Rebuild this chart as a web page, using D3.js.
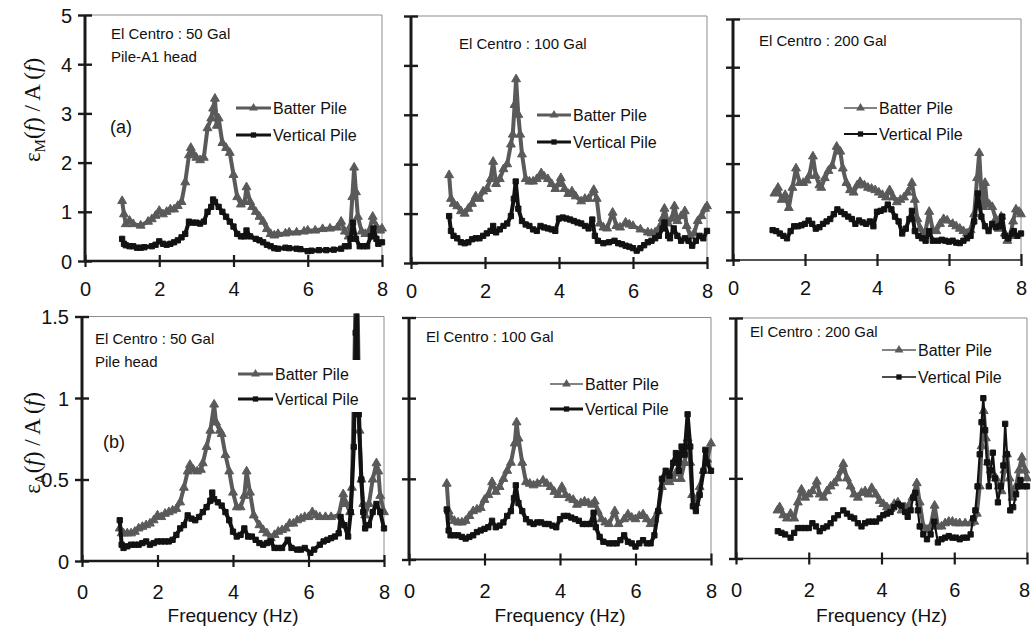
<!DOCTYPE html>
<html>
<head>
<meta charset="utf-8">
<script src="https://cdn.jsdelivr.net/npm/d3@7"></script>
<style>
  body { margin: 0; background: #fff; }
  svg { display: block; font-family: "Liberation Sans", Arial, sans-serif; }
  svg text { font-family: "Liberation Sans", Arial, sans-serif; }
  .tick text { font-size: 20px; fill: #111; }
  .note { font-size: 15px; fill: #111; }
  .legend-text { font-size: 16px; fill: #111; }
  svg text.ytitle, svg text.ytitle tspan { font-family: "Liberation Serif", "Times New Roman", serif; font-size: 23px; fill: #111; }
</style>
</head>
<body>
<div id="chart"></div>
<script>
// tick values
const freqTicks = [0, 2, 4, 6, 8];
const topTicks = [0, 1, 2, 3, 4, 5];
const bottomTicks = [0, 0.5, 1, 1.5];

// eps_M / A(f), El Centro 50 Gal
const batterM50 = [[1.0,1.22],[1.05,0.95],[1.1,0.75],[1.2,0.82],[1.3,0.75],[1.5,0.72],[1.7,0.8],[1.8,0.85],[1.9,0.92],[2.0,1.02],[2.1,0.95],[2.2,1.0],[2.3,1.05],[2.4,1.05],[2.5,1.12],[2.6,1.2],[2.7,1.6],[2.8,2.15],[2.85,2.3],[2.9,2.2],[3.0,2.1],[3.1,2.05],[3.2,2.1],[3.3,2.7],[3.4,2.9],[3.45,3.1],[3.5,3.3],[3.55,2.75],[3.6,2.9],[3.7,2.4],[3.8,2.3],[3.9,2.2],[4.0,1.75],[4.1,1.3],[4.2,1.15],[4.3,1.2],[4.35,1.5],[4.45,1.2],[4.5,1.1],[4.6,1.0],[4.7,0.9],[4.8,0.8],[4.9,0.65],[5.0,0.55],[5.1,0.52],[5.2,0.55],[5.4,0.56],[5.5,0.58],[5.7,0.58],[5.9,0.6],[6.0,0.62],[6.2,0.62],[6.4,0.65],[6.6,0.66],[6.8,0.68],[6.9,0.8],[7.0,0.6],[7.1,0.5],[7.15,0.7],[7.2,1.3],[7.25,1.9],[7.3,1.4],[7.35,0.9],[7.45,0.6],[7.55,0.55],[7.65,0.6],[7.75,0.9],[7.85,0.7],[7.95,0.62],[8.0,0.66]];
const verticalM50 = [[1.0,0.45],[1.05,0.35],[1.1,0.32],[1.2,0.3],[1.3,0.3],[1.4,0.27],[1.5,0.27],[1.6,0.28],[1.8,0.3],[1.9,0.33],[2.0,0.4],[2.1,0.35],[2.2,0.33],[2.3,0.35],[2.4,0.38],[2.5,0.42],[2.6,0.48],[2.7,0.55],[2.8,0.8],[2.9,0.78],[3.0,0.78],[3.1,0.76],[3.2,0.8],[3.3,1.0],[3.4,1.1],[3.45,1.25],[3.5,1.2],[3.6,1.1],[3.7,1.0],[3.8,0.9],[3.9,0.8],[4.0,0.7],[4.1,0.55],[4.2,0.5],[4.3,0.5],[4.35,0.62],[4.45,0.5],[4.6,0.45],[4.7,0.42],[4.8,0.38],[4.9,0.33],[5.0,0.3],[5.1,0.26],[5.2,0.25],[5.4,0.27],[5.5,0.26],[5.7,0.25],[5.8,0.24],[6.0,0.2],[6.1,0.21],[6.3,0.22],[6.5,0.22],[6.7,0.23],[6.9,0.25],[7.0,0.3],[7.1,0.3],[7.15,0.45],[7.22,0.78],[7.3,0.45],[7.4,0.3],[7.5,0.3],[7.6,0.3],[7.7,0.5],[7.77,0.66],[7.85,0.45],[7.9,0.35],[8.0,0.38]];

// eps_M / A(f), El Centro 100 Gal
const batterM100 = [[1.03,1.78],[1.08,1.3],[1.15,1.2],[1.25,1.15],[1.35,1.05],[1.45,1.0],[1.55,1.1],[1.65,1.2],[1.75,1.35],[1.85,1.3],[1.95,1.45],[2.05,1.5],[2.15,1.7],[2.22,2.05],[2.3,1.6],[2.4,1.7],[2.5,1.9],[2.6,2.0],[2.7,2.4],[2.75,2.6],[2.8,3.2],[2.84,3.72],[2.9,3.0],[2.95,2.6],[3.0,2.2],[3.1,1.7],[3.2,1.65],[3.3,1.65],[3.4,1.7],[3.52,1.82],[3.6,1.75],[3.7,1.7],[3.8,1.6],[3.9,1.5],[4.0,1.6],[4.05,1.72],[4.15,1.5],[4.25,1.4],[4.35,1.45],[4.45,1.35],[4.6,1.25],[4.7,1.3],[4.8,1.3],[4.94,1.48],[5.02,1.3],[5.1,0.8],[5.2,0.72],[5.3,0.7],[5.45,1.02],[5.55,0.75],[5.65,0.72],[5.8,0.82],[5.9,0.78],[6.0,0.75],[6.2,0.68],[6.4,0.62],[6.5,0.6],[6.6,0.62],[6.7,0.7],[6.8,0.9],[6.85,1.1],[6.95,0.8],[7.05,0.9],[7.12,1.15],[7.2,0.85],[7.3,0.95],[7.4,1.05],[7.45,0.75],[7.55,0.55],[7.65,0.6],[7.75,0.85],[7.85,0.95],[7.95,1.1],[8.0,1.15]];
const verticalM100 = [[1.03,0.95],[1.08,0.65],[1.15,0.55],[1.25,0.5],[1.35,0.42],[1.45,0.4],[1.55,0.42],[1.65,0.48],[1.75,0.5],[1.85,0.5],[1.95,0.55],[2.05,0.6],[2.15,0.65],[2.22,0.75],[2.3,0.62],[2.4,0.68],[2.5,0.75],[2.6,0.8],[2.7,0.95],[2.78,1.3],[2.83,1.65],[2.9,1.1],[3.0,0.85],[3.1,0.78],[3.2,0.75],[3.3,0.68],[3.4,0.65],[3.5,0.75],[3.6,0.72],[3.7,0.7],[3.8,0.68],[3.9,0.65],[4.0,0.9],[4.1,0.92],[4.2,0.9],[4.3,0.88],[4.4,0.85],[4.5,0.82],[4.6,0.8],[4.7,0.75],[4.8,0.7],[4.9,0.88],[4.97,0.55],[5.05,0.45],[5.2,0.4],[5.35,0.42],[5.5,0.45],[5.6,0.4],[5.7,0.38],[5.8,0.35],[5.9,0.33],[6.0,0.3],[6.1,0.25],[6.2,0.3],[6.3,0.36],[6.4,0.42],[6.5,0.45],[6.6,0.5],[6.7,0.55],[6.8,0.7],[6.85,0.82],[6.95,0.55],[7.0,0.5],[7.1,0.7],[7.2,0.55],[7.3,0.45],[7.4,0.5],[7.5,0.45],[7.6,0.35],[7.7,0.45],[7.8,0.55],[7.9,0.5],[8.0,0.65]];

// eps_M / A(f), El Centro 200 Gal
const batterM200 = [[1.15,1.38],[1.25,1.5],[1.35,1.25],[1.45,1.35],[1.55,1.08],[1.65,1.5],[1.75,1.9],[1.85,1.6],[1.95,1.6],[2.05,1.65],[2.12,1.75],[2.22,2.15],[2.3,1.75],[2.4,1.55],[2.45,1.5],[2.55,1.7],[2.65,1.85],[2.75,1.95],[2.88,2.35],[2.98,2.25],[3.05,1.9],[3.15,1.6],[3.25,1.45],[3.35,1.4],[3.45,1.55],[3.53,1.62],[3.65,1.55],[3.75,1.5],[3.85,1.48],[3.95,1.45],[4.05,1.4],[4.15,1.35],[4.25,1.3],[4.35,1.45],[4.45,1.3],[4.55,1.2],[4.65,1.25],[4.75,1.3],[4.85,1.4],[4.97,1.6],[5.05,1.25],[5.12,0.85],[5.2,0.65],[5.32,0.5],[5.45,1.0],[5.55,0.62],[5.65,0.6],[5.75,0.75],[5.85,0.85],[5.95,0.82],[6.1,0.75],[6.2,0.7],[6.3,0.65],[6.4,0.6],[6.5,0.55],[6.6,0.62],[6.7,0.95],[6.78,1.7],[6.84,2.22],[6.9,1.4],[6.95,1.1],[7.0,1.6],[7.05,1.2],[7.12,1.15],[7.2,1.1],[7.3,0.85],[7.38,0.65],[7.45,0.9],[7.55,0.55],[7.62,0.4],[7.7,0.5],[7.78,0.8],[7.86,1.05],[7.95,1.0],[8.0,0.95]];
const verticalM200 = [[1.1,0.62],[1.2,0.6],[1.3,0.55],[1.4,0.5],[1.5,0.45],[1.6,0.6],[1.7,0.7],[1.8,0.7],[1.9,0.72],[2.0,0.75],[2.1,0.82],[2.2,0.75],[2.3,0.65],[2.4,0.68],[2.5,0.75],[2.6,0.8],[2.7,0.85],[2.8,0.95],[2.9,1.05],[3.0,1.0],[3.1,0.95],[3.2,0.9],[3.3,0.85],[3.4,0.75],[3.5,0.82],[3.6,0.78],[3.7,0.75],[3.8,0.8],[3.9,0.7],[4.0,1.0],[4.1,1.02],[4.2,1.05],[4.3,1.15],[4.4,1.05],[4.5,0.9],[4.6,0.8],[4.7,0.55],[4.8,0.65],[4.9,0.85],[4.97,1.02],[5.05,0.6],[5.15,0.5],[5.25,0.45],[5.35,0.4],[5.45,0.6],[5.55,0.4],[5.7,0.4],[5.8,0.42],[5.9,0.4],[6.0,0.38],[6.1,0.4],[6.2,0.36],[6.3,0.35],[6.4,0.4],[6.5,0.45],[6.6,0.5],[6.7,0.8],[6.8,1.38],[6.9,0.9],[7.0,0.7],[7.1,0.6],[7.2,0.75],[7.3,0.68],[7.4,0.7],[7.48,0.9],[7.55,0.5],[7.65,0.45],[7.75,0.55],[7.8,0.6],[7.9,0.5],[8.0,0.55]];

// eps_A / A(f), El Centro 50 Gal
const batterA50 = [[1.0,0.2],[1.05,0.17],[1.1,0.17],[1.2,0.17],[1.3,0.17],[1.4,0.18],[1.5,0.2],[1.6,0.21],[1.7,0.22],[1.8,0.23],[1.9,0.25],[2.0,0.28],[2.1,0.27],[2.2,0.29],[2.3,0.3],[2.4,0.31],[2.5,0.32],[2.6,0.36],[2.7,0.45],[2.8,0.55],[2.86,0.59],[2.95,0.56],[3.05,0.55],[3.15,0.56],[3.2,0.6],[3.3,0.7],[3.4,0.8],[3.5,0.96],[3.55,0.85],[3.65,0.8],[3.7,0.78],[3.8,0.65],[3.9,0.55],[4.0,0.42],[4.1,0.33],[4.2,0.33],[4.3,0.4],[4.36,0.55],[4.45,0.42],[4.55,0.28],[4.7,0.22],[4.8,0.19],[4.9,0.17],[5.0,0.14],[5.1,0.16],[5.2,0.18],[5.3,0.19],[5.4,0.2],[5.5,0.23],[5.6,0.23],[5.7,0.25],[5.8,0.26],[5.9,0.27],[6.0,0.27],[6.1,0.3],[6.2,0.28],[6.3,0.27],[6.45,0.27],[6.6,0.27],[6.8,0.28],[6.92,0.41],[7.0,0.35],[7.1,0.3],[7.15,0.45],[7.2,1.0],[7.25,1.7],[7.3,1.6],[7.35,0.8],[7.4,0.5],[7.45,0.35],[7.5,0.28],[7.6,0.35],[7.7,0.5],[7.8,0.6],[7.85,0.55],[7.9,0.4],[8.0,0.3]];
const verticalA50 = [[1.0,0.25],[1.05,0.1],[1.1,0.08],[1.2,0.09],[1.3,0.1],[1.4,0.1],[1.5,0.1],[1.6,0.11],[1.7,0.12],[1.8,0.1],[1.9,0.11],[2.0,0.12],[2.1,0.12],[2.2,0.12],[2.3,0.12],[2.4,0.13],[2.5,0.16],[2.6,0.2],[2.7,0.22],[2.8,0.28],[2.9,0.26],[3.0,0.25],[3.1,0.27],[3.2,0.3],[3.3,0.33],[3.4,0.37],[3.45,0.42],[3.5,0.38],[3.6,0.36],[3.7,0.34],[3.8,0.3],[3.9,0.25],[4.0,0.18],[4.1,0.15],[4.2,0.16],[4.3,0.2],[4.4,0.15],[4.5,0.15],[4.6,0.13],[4.7,0.11],[4.8,0.1],[4.9,0.11],[5.0,0.12],[5.1,0.08],[5.2,0.08],[5.3,0.08],[5.45,0.13],[5.55,0.08],[5.7,0.07],[5.8,0.07],[5.9,0.08],[6.05,0.05],[6.15,0.07],[6.3,0.1],[6.4,0.12],[6.5,0.13],[6.6,0.14],[6.7,0.15],[6.8,0.17],[6.85,0.27],[6.95,0.22],[7.05,0.15],[7.12,0.3],[7.2,0.7],[7.25,1.4],[7.28,1.6],[7.33,0.9],[7.4,0.5],[7.45,0.3],[7.5,0.2],[7.6,0.22],[7.7,0.3],[7.8,0.35],[7.9,0.3],[8.0,0.2]];

// eps_A / A(f), El Centro 100 Gal
const batterA100 = [[1.0,0.47],[1.05,0.3],[1.1,0.26],[1.2,0.24],[1.3,0.23],[1.4,0.23],[1.5,0.24],[1.6,0.27],[1.7,0.3],[1.8,0.31],[1.9,0.32],[2.0,0.37],[2.1,0.4],[2.2,0.48],[2.3,0.42],[2.4,0.45],[2.5,0.5],[2.6,0.55],[2.7,0.6],[2.8,0.72],[2.85,0.85],[2.9,0.75],[3.0,0.6],[3.1,0.48],[3.2,0.47],[3.3,0.46],[3.4,0.47],[3.55,0.49],[3.65,0.47],[3.75,0.45],[3.85,0.42],[3.95,0.4],[4.05,0.45],[4.15,0.4],[4.25,0.38],[4.35,0.37],[4.45,0.34],[4.55,0.35],[4.65,0.36],[4.75,0.35],[4.85,0.34],[4.92,0.36],[5.0,0.3],[5.1,0.25],[5.2,0.23],[5.3,0.22],[5.45,0.3],[5.55,0.22],[5.7,0.25],[5.8,0.28],[5.9,0.26],[6.0,0.25],[6.1,0.27],[6.2,0.28],[6.3,0.25],[6.4,0.22],[6.5,0.25],[6.6,0.3],[6.7,0.45],[6.8,0.5],[6.9,0.48],[7.0,0.5],[7.1,0.55],[7.2,0.5],[7.3,0.6],[7.38,0.75],[7.45,0.6],[7.5,0.4],[7.6,0.35],[7.7,0.45],[7.8,0.55],[7.9,0.62],[8.0,0.72]];
const verticalA100 = [[1.0,0.31],[1.05,0.18],[1.1,0.15],[1.2,0.15],[1.3,0.15],[1.4,0.14],[1.5,0.13],[1.6,0.14],[1.7,0.15],[1.8,0.17],[1.9,0.18],[2.0,0.19],[2.1,0.2],[2.2,0.24],[2.3,0.2],[2.4,0.21],[2.5,0.23],[2.6,0.27],[2.7,0.3],[2.78,0.38],[2.83,0.46],[2.9,0.35],[3.0,0.3],[3.1,0.25],[3.2,0.23],[3.3,0.22],[3.4,0.23],[3.5,0.23],[3.6,0.22],[3.7,0.22],[3.8,0.21],[3.9,0.2],[4.0,0.25],[4.1,0.27],[4.2,0.27],[4.3,0.26],[4.4,0.25],[4.5,0.24],[4.6,0.22],[4.7,0.22],[4.8,0.22],[4.89,0.29],[4.95,0.2],[5.05,0.14],[5.15,0.11],[5.3,0.1],[5.4,0.1],[5.5,0.1],[5.6,0.12],[5.7,0.15],[5.8,0.11],[5.9,0.1],[6.0,0.08],[6.1,0.1],[6.2,0.12],[6.3,0.1],[6.4,0.1],[6.5,0.15],[6.6,0.3],[6.7,0.5],[6.8,0.55],[6.9,0.52],[7.0,0.6],[7.07,0.66],[7.15,0.55],[7.22,0.7],[7.3,0.65],[7.38,0.9],[7.45,0.7],[7.52,0.33],[7.6,0.3],[7.7,0.4],[7.8,0.55],[7.85,0.68],[7.9,0.6],[8.0,0.55]];

// eps_A / A(f), El Centro 200 Gal
const batterA200 = [[1.14,0.3],[1.2,0.32],[1.3,0.27],[1.4,0.25],[1.5,0.28],[1.6,0.25],[1.7,0.35],[1.8,0.43],[1.9,0.38],[2.0,0.4],[2.1,0.42],[2.22,0.48],[2.3,0.4],[2.4,0.38],[2.5,0.42],[2.6,0.45],[2.7,0.47],[2.8,0.5],[2.9,0.55],[2.95,0.59],[3.05,0.5],[3.15,0.45],[3.25,0.4],[3.35,0.38],[3.45,0.41],[3.55,0.42],[3.65,0.4],[3.73,0.44],[3.85,0.4],[3.95,0.36],[4.05,0.34],[4.15,0.32],[4.25,0.31],[4.35,0.34],[4.45,0.35],[4.55,0.3],[4.65,0.32],[4.75,0.33],[4.85,0.38],[4.97,0.47],[5.05,0.35],[5.15,0.2],[5.25,0.18],[5.35,0.2],[5.46,0.33],[5.55,0.2],[5.65,0.2],[5.75,0.22],[5.85,0.23],[5.95,0.23],[6.05,0.22],[6.15,0.22],[6.3,0.22],[6.45,0.22],[6.55,0.23],[6.62,0.28],[6.7,0.45],[6.75,0.7],[6.81,0.92],[6.87,0.75],[6.93,0.6],[7.0,0.55],[7.08,0.52],[7.15,0.5],[7.22,0.45],[7.3,0.42],[7.38,0.55],[7.45,0.65],[7.52,0.5],[7.6,0.38],[7.7,0.45],[7.78,0.55],[7.86,0.63],[7.95,0.55],[8.0,0.5]];
const verticalA200 = [[1.15,0.17],[1.25,0.16],[1.35,0.15],[1.5,0.13],[1.6,0.16],[1.7,0.19],[1.8,0.19],[1.9,0.19],[2.0,0.19],[2.1,0.22],[2.2,0.2],[2.3,0.17],[2.4,0.19],[2.5,0.2],[2.6,0.22],[2.7,0.25],[2.8,0.27],[2.95,0.3],[3.05,0.28],[3.15,0.26],[3.25,0.25],[3.35,0.22],[3.45,0.2],[3.55,0.22],[3.65,0.23],[3.75,0.23],[3.85,0.23],[3.95,0.25],[4.05,0.27],[4.15,0.28],[4.25,0.29],[4.35,0.32],[4.45,0.34],[4.55,0.33],[4.65,0.29],[4.72,0.26],[4.8,0.3],[4.87,0.38],[4.93,0.41],[5.0,0.3],[5.05,0.2],[5.15,0.15],[5.25,0.12],[5.35,0.15],[5.45,0.23],[5.55,0.1],[5.65,0.12],[5.75,0.13],[5.85,0.14],[5.95,0.13],[6.05,0.13],[6.15,0.12],[6.25,0.13],[6.35,0.13],[6.45,0.15],[6.52,0.25],[6.58,0.3],[6.64,0.45],[6.7,0.65],[6.75,0.85],[6.8,1.0],[6.85,0.8],[6.9,0.6],[6.95,0.45],[7.0,0.55],[7.06,0.66],[7.12,0.5],[7.2,0.35],[7.28,0.45],[7.35,0.58],[7.4,0.84],[7.45,0.65],[7.54,0.3],[7.62,0.32],[7.7,0.4],[7.76,0.45],[7.82,0.49],[7.9,0.45],[8.0,0.45]];

const seriesNames = ['Batter Pile', 'Vertical Pile'];
const noteLines = [
	['El Centro : 50 Gal', 'Pile-A1 head'],
	['El Centro : 100 Gal'],
	['El Centro : 200 Gal'],
	['El Centro : 50 Gal', 'Pile head'],
	['El Centro : 100 Gal'],
	['El Centro : 200 Gal']
];

const width = 1031, height = 626;
const batterColour = '#5a5a5a';
const verticalColour = '#121212';

// panel layout (plot frames in pixels, row 0 = eps_M, row 1 = eps_A)
const panels = [
	{row: 0, x0: 85,  x1: 382,  top: 15,    bottom: 261,   batter: batterM50,  vertical: verticalM50,
	 note: [111, 38.5], legend: [236, 273, 108, 135], legendWidth: [3, 3], label: '(a)', labelPos: [110, 133], xAxisWidth: 2.6},
	{row: 0, x0: 411, x1: 707,  top: 16,    bottom: 263,   batter: batterM100, vertical: verticalM100,
	 note: [459, 48.5], legend: [537, 573, 115, 142], legendWidth: [3, 3], xAxisWidth: 2.6},
	{row: 0, x0: 733, x1: 1021, top: 19,    bottom: 260,   batter: batterM200, vertical: verticalM200,
	 note: [759, 45.5], legend: [844, 879, 108, 134], legendWidth: [1.6, 2.2], xAxisWidth: 1.6},
	{row: 1, x0: 82,  x1: 384,  top: 316.5, bottom: 561,   batter: batterA50,  vertical: verticalA50,
	 note: [95, 343.5], legend: [238, 275, 374, 399], legendWidth: [3, 3], label: '(b)', labelPos: [103, 448], xAxisWidth: 2.6},
	{row: 1, x0: 409, x1: 711,  top: 317.5, bottom: 559.5, batter: batterA100, vertical: verticalA100,
	 note: [426, 342], legend: [550, 585, 384, 409], legendWidth: [1.6, 3], xAxisWidth: 2},
	{row: 1, x0: 736, x1: 1027, top: 318,   bottom: 558.5, batter: batterA200, vertical: verticalA200,
	 note: [750, 337], legend: [882, 918, 350, 377], legendWidth: [1.6, 1.4], xAxisWidth: 1.6}
];

const svg = d3.select('#chart').append('svg')
	.attr('width', width)
	.attr('height', height);

const triangle = d3.symbol().type(d3.symbolTriangle).size(34);
const square = d3.symbol().type(d3.symbolSquare).size(28);

panels.forEach((p, i) => {
	const yMax = p.row === 0 ? 5 : 1.5;
	const yTicks = p.row === 0 ? topTicks : bottomTicks;
	const x = d3.scaleLinear().domain([0, 8]).range([p.x0, p.x1]);
	const y = d3.scaleLinear().domain([0, yMax]).range([p.bottom, p.top]);
	const g = svg.append('g').attr('class', 'panel');

	// thin frame on top and right
	g.append('path')
		.attr('d', `M${p.x0},${p.top}H${p.x1}V${p.bottom}`)
		.attr('fill', 'none')
		.attr('stroke', '#8c8c8c')
		.attr('stroke-width', 1);

	// clip so the off-scale spike stops at the frame
	g.append('clipPath').attr('id', 'clip' + i)
		.append('rect')
		.attr('x', p.x0 - 10).attr('y', p.top - 3)
		.attr('width', p.x1 - p.x0 + 20).attr('height', p.bottom - p.top + 3);

	const line = d3.line().x(d => x(d[0])).y(d => y(d[1]));
	const plot = g.append('g').attr('clip-path', `url(#clip${i})`);

	drawSeries(plot, p.batter, line, x, y, batterColour, triangle, 4);
	drawSeries(plot, p.vertical, line, x, y, verticalColour, square, i === 5 ? 2.2 : 4);

	// legend with white box
	drawLegend(g, p);

	// notes
	const note = g.append('text').attr('class', 'note')
		.attr('x', p.note[0]).attr('y', p.note[1]);
	noteLines[i].forEach((t, k) => {
		note.append('tspan').attr('x', p.note[0]).attr('dy', k === 0 ? 0 : 23).text(t);
	});
	if (p.label) {
		g.append('text').attr('x', p.labelPos[0]).attr('y', p.labelPos[1])
			.style('font-size', '18px').attr('fill', '#111').text(p.label);
	}

	// x axis, ticks crossing the line
	const xAxis = g.append('g')
		.attr('transform', `translate(0,${p.bottom})`)
		.call(d3.axisBottom(x).tickValues(freqTicks).tickSize(6).tickFormat(d3.format('d')));
	xAxis.select('.domain').attr('stroke', '#1a1a1a').attr('stroke-width', p.xAxisWidth)
		.attr('d', `M${p.x0},0H${p.x1}`);
	xAxis.selectAll('.tick line').attr('y1', -6).attr('y2', 6)
		.attr('stroke', '#1a1a1a').attr('stroke-width', 2.2);
	xAxis.selectAll('.tick text').attr('y', p.row === 0 ? 21 : 24).attr('dy', '0.71em');
	// last label of the right-hand bottom panel sits on the page edge
	if (p.x1 > 1024) xAxis.selectAll('.tick text').filter(d => d === 8).attr('x', -3);

	// y axis
	const yAxis = g.append('g')
		.attr('transform', `translate(${p.x0},0)`)
		.call(d3.axisLeft(y).tickValues(yTicks).tickSize(6)
			.tickFormat(p.x0 < 100 ? d3.format('') : ''));
	yAxis.select('.domain').attr('stroke', '#1a1a1a').attr('stroke-width', 3)
		.attr('d', `M0,${p.bottom + 1}V${p.top}`);
	yAxis.selectAll('.tick line').attr('x1', -7).attr('x2', 7)
		.attr('stroke', '#1a1a1a').attr('stroke-width', 2.4);
	yAxis.selectAll('.tick text').attr('x', -13).attr('dy', '0.35em');

	if (p.row === 1) {
		g.append('text')
			.attr('x', (p.x0 + p.x1) / 2).attr('y', 622)
			.attr('text-anchor', 'middle')
			.style('font-size', '19px').attr('fill', '#111')
			.text('Frequency (Hz)');
	}
});

svg.selectAll('.tick text').attr('fill', '#111');

// y axis titles
addYTitle('M', 32, 110);
addYTitle('A', 32, 443);

function drawSeries(sel, data, line, x, y, colour, symbol, sw) {
	sel.append('path')
		.datum(data)
		.attr('d', line)
		.attr('fill', 'none')
		.attr('stroke', colour)
		.attr('stroke-width', sw)
		.attr('stroke-linejoin', 'round');
	sel.append('g')
		.selectAll('path')
		.data(data)
		.enter().append('path')
			.attr('d', symbol)
			.attr('transform', d => `translate(${x(d[0])},${y(d[1])})`)
			.attr('fill', colour)
			.attr('stroke', colour)
			.attr('stroke-width', 1);
}

function drawLegend(g, p) {
	const [lx, tx, r1, r2] = p.legend;
	const box = g.append('g').attr('class', 'legend');
	const textWidth = 92;
	box.append('rect')
		.attr('x', lx - 3).attr('y', r1 - 14)
		.attr('width', tx - lx + textWidth).attr('height', r2 - r1 + 27)
		.attr('fill', '#fff');
	const rows = [
		{name: seriesNames[0], cy: r1, colour: batterColour, symbol: triangle, w: p.legendWidth[0]},
		{name: seriesNames[1], cy: r2, colour: verticalColour, symbol: square, w: p.legendWidth[1]}
	];
	rows.forEach(r => {
		box.append('line')
			.attr('x1', lx).attr('x2', tx - 2)
			.attr('y1', r.cy).attr('y2', r.cy)
			.attr('stroke', r.colour).attr('stroke-width', r.w);
		box.append('path')
			.attr('d', r.symbol)
			.attr('transform', `translate(${(lx + tx - 2) / 2},${r.cy})`)
			.attr('fill', r.colour);
		box.append('text')
			.attr('class', 'legend-text')
			.attr('x', tx).attr('y', r.cy).attr('dy', '0.36em')
			.text(r.name);
	});
}

function addYTitle(sub, cx, cy) {
	const t = svg.append('text')
		.attr('class', 'ytitle')
		.attr('text-anchor', 'middle')
		.attr('transform', `translate(${cx},${cy}) rotate(-90)`)
		.attr('dy', '0.35em');
	t.append('tspan').text('\u03b5');
	t.append('tspan').attr('dy', 5).style('font-size', '15px').text(sub);
	t.append('tspan').attr('dy', -5).text('(');
	t.append('tspan').style('font-style', 'italic').text('f');
	t.append('tspan').text(') / A (');
	t.append('tspan').style('font-style', 'italic').text('f');
	t.append('tspan').text(')');
}
</script>
</body>
</html>
